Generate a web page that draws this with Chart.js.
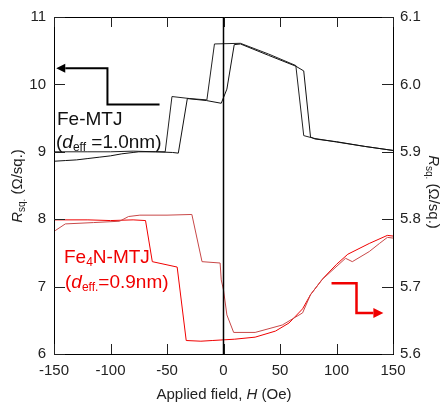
<!DOCTYPE html>
<html lang="en">
<head>
<meta charset="UTF-8" />
<title>Rsq vs applied field</title>
<script src="https://cdn.jsdelivr.net/npm/chart.js"></script>
<style>
    body { margin: 0; background: #fff; }
    canvas { display: block; }
</style>
</head>
<body>
<canvas id="chart" width="444" height="403"></canvas>
<script>
    // Fe-MTJ, left axis (Ohm/sq.), field sweep up and down
    const feUpH = [-150, -140, -130, -120, -110, -100, -90, -80, -75, -60, -45, -40, -32, -15, -2, 3, 9.5, 15, 40, 64, 71, 77, 81, 100, 125, 150];
    const feUpR = [8.86, 8.87, 8.88, 8.9, 8.92, 8.94, 8.97, 8.99, 9.0, 9.0, 8.99, 8.98, 9.79, 9.76, 9.72, 9.93, 10.59, 10.6, 10.43, 10.27, 10.2, 9.22, 9.19, 9.15, 9.08, 9.02];
    const feDownH = [150, 125, 100, 80, 71, 64, 40, 15, -8, -14.7, -30, -45.6, -51.6, -60, -80, -100, -120, -150];
    const feDownR = [9.02, 9.08, 9.145, 9.2, 9.24, 10.28, 10.45, 10.61, 10.6, 9.77, 9.79, 9.82, 9.0, 9.0, 9.01, 9.0, 9.0, 9.0];

    // Fe4N-MTJ, right axis (Ohm/sq.)
    const fe4nUpH = [-149, -140, -115, -92, -84, -74, -50, -28, -19, -3, -2, 0, 3, 9, 28, 52, 70, 77, 87, 108, 114, 129, 138, 145, 150];
    const fe4nUpR = [5.783, 5.793, 5.795, 5.797, 5.804, 5.806, 5.806, 5.807, 5.737, 5.735, 5.71, 5.695, 5.658, 5.632, 5.632, 5.643, 5.661, 5.688, 5.71, 5.742, 5.737, 5.752, 5.764, 5.773, 5.772];
    const fe4nDownH = [150, 145, 129, 110, 100, 88, 77, 70, 58, 46, 28, 10, 0, -10, -20, -33, -41, -63, -69, -80, -100, -120, -150];
    const fe4nDownR = [5.775, 5.776, 5.764, 5.748, 5.733, 5.712, 5.688, 5.667, 5.646, 5.634, 5.625, 5.622, 5.621, 5.62, 5.619, 5.62, 5.729, 5.737, 5.798, 5.799, 5.798, 5.799, 5.799];

    const xTicks = [-150, -100, -50, 0, 50, 100, 150];
    const leftTicks = [6, 7, 8, 9, 10, 11];
    const rightTicks = [5.6, 5.7, 5.8, 5.9, 6.0, 6.1];

    const FONT = "Arial, 'Liberation Sans', sans-serif";
    const RED = '#f00000';

    const pts = (hs, rs) => hs.map((h, i) => ({ x: h, y: rs[i] }));

    function seg(ctx, x1, y1, x2, y2) {
        ctx.beginPath(); ctx.moveTo(x1, y1); ctx.lineTo(x2, y2); ctx.stroke();
    }

    function richWidth(ctx, parts) {
        let w = 0;
        parts.forEach(p => { ctx.font = p.f; w += ctx.measureText(p.t).width; });
        return w;
    }

    function richText(ctx, parts, x, y) {
        ctx.textAlign = 'left';
        ctx.textBaseline = 'alphabetic';
        parts.forEach(p => {
            ctx.font = p.f;
            ctx.fillText(p.t, x, y + (p.dy || 0));
            x += ctx.measureText(p.t).width;
        });
    }

    function arrow(ctx, path, xs, ys, color, width, head) {
        const p = path.map(([h, r]) => [xs.getPixelForValue(h), ys.getPixelForValue(r)]);
        ctx.save();
        ctx.strokeStyle = color; ctx.fillStyle = color; ctx.lineWidth = width;
        ctx.beginPath();
        ctx.moveTo(p[0][0], p[0][1]);
        for (let i = 1; i < p.length - 1; i++) ctx.lineTo(p[i][0], p[i][1]);
        const [tx, ty] = p[p.length - 1];
        const [px, py] = p[p.length - 2];
        const dir = Math.sign(tx - px);
        ctx.lineTo(tx - dir * head, ty);
        ctx.stroke();
        ctx.beginPath();
        ctx.moveTo(tx, ty);
        ctx.lineTo(tx - dir * head, ty - head / 2);
        ctx.lineTo(tx - dir * head, ty + head / 2);
        ctx.closePath();
        ctx.fill();
        ctx.restore();
    }

    // annotation arrows, data units
    const feArrow = [[-56.6, 9.7], [-102.7, 9.7], [-102.7, 10.24], [-148, 10.24]];
    const fe4nArrow = [[95.6, 5.705], [117.7, 5.705], [117.7, 5.661], [141.5, 5.661]];

    const decor = {
        id: 'decor',
        afterDraw(chart) {
            const ctx = chart.ctx;
            const a = chart.chartArea;
            const sx = chart.scales.x, sy = chart.scales.y, sy2 = chart.scales.y2;
            ctx.save();
            ctx.strokeStyle = '#000';
            ctx.lineWidth = 1;
            ctx.strokeRect(a.left + 0.5, a.top + 0.5, a.right - a.left, a.bottom - a.top);

            // inward tick marks
            ctx.strokeStyle = '#222';
            for (const v of xTicks) {
                const px = Math.round(sx.getPixelForValue(v)) + 0.5;
                seg(ctx, px, a.bottom, px, a.bottom - 10);
                seg(ctx, px, a.top, px, a.top + 10);
            }
            for (const v of leftTicks) {
                const py = Math.round(sy.getPixelForValue(v)) + 0.5;
                seg(ctx, a.left, py, a.left + 11, py);
            }
            for (const v of rightTicks) {
                const py = Math.round(sy2.getPixelForValue(v)) + 0.5;
                seg(ctx, a.right, py, a.right - 11, py);
            }

            // zero field line
            ctx.strokeStyle = '#000';
            ctx.lineWidth = 1.5;
            const x0 = sx.getPixelForValue(0);
            seg(ctx, x0, a.top, x0, a.bottom);
            ctx.restore();

            arrow(ctx, feArrow, sx, sy, '#000', 2, 9);
            arrow(ctx, fe4nArrow, sx, sy2, RED, 2.5, 10);

            // sample labels
            ctx.save();
            ctx.fillStyle = '#111';
            richText(ctx, [{ t: 'Fe-MTJ', f: `19px ${FONT}` }], 57, 125);
            richText(ctx, [
                { t: '(', f: `19px ${FONT}` },
                { t: 'd', f: `italic 19px ${FONT}` },
                { t: 'eff', f: `12px ${FONT}`, dy: 3 },
                { t: ' =1.0nm)', f: `19px ${FONT}` }
            ], 56, 148);
            ctx.fillStyle = RED;
            richText(ctx, [
                { t: 'Fe', f: `19px ${FONT}` },
                { t: '4', f: `12px ${FONT}`, dy: 3 },
                { t: 'N-MTJ', f: `19px ${FONT}` }
            ], 64, 263);
            richText(ctx, [
                { t: '(', f: `19px ${FONT}` },
                { t: 'd', f: `italic 19px ${FONT}` },
                { t: 'eff.', f: `12px ${FONT}`, dy: 3 },
                { t: '=0.9nm)', f: `19px ${FONT}` }
            ], 65, 288);

            // axis titles
            ctx.fillStyle = '#222';
            const yTitle = [
                { t: 'R', f: `italic 15px ${FONT}` },
                { t: 'sq.', f: `10px ${FONT}`, dy: 3 },
                { t: ' (\u03a9/sq.)', f: `15px ${FONT}` }
            ];
            const w = richWidth(ctx, yTitle);
            ctx.save();
            ctx.translate(22, 186);
            ctx.rotate(-Math.PI / 2);
            richText(ctx, yTitle, -w / 2, 0);
            ctx.restore();
            ctx.save();
            ctx.translate(429, 192);
            ctx.rotate(Math.PI / 2);
            richText(ctx, yTitle, -w / 2, 0);
            ctx.restore();

            const xTitle = [
                { t: 'Applied field, ', f: `15px ${FONT}` },
                { t: 'H', f: `italic 15px ${FONT}` },
                { t: ' (Oe)', f: `15px ${FONT}` }
            ];
            richText(ctx, xTitle, 224 - richWidth(ctx, xTitle) / 2, 399);
            ctx.restore();
        }
    };

    const lineSet = (data, color, axis) => ({
        data, yAxisID: axis, borderColor: color, borderWidth: 1,
        pointRadius: 0, tension: 0, fill: false, showLine: true
    });

    const tickFont = { family: FONT, size: 15 };
    const axisBase = {
        type: 'linear',
        grid: { display: false, drawTicks: false },
        border: { display: true, color: '#000', width: 1 }
    };

    new Chart(document.getElementById('chart'), {
        type: 'scatter',
        data: {
            datasets: [
                lineSet(pts(feUpH, feUpR), '#111', 'y'),
                lineSet(pts(feDownH, feDownR), '#222', 'y'),
                lineSet(pts(fe4nUpH, fe4nUpR), '#c84848', 'y2'),
                lineSet(pts(fe4nDownH, fe4nDownR), RED, 'y2')
            ]
        },
        options: {
            responsive: false,
            animation: false,
            layout: { padding: { top: 16 } },
            plugins: { legend: { display: false }, tooltip: { enabled: false } },
            scales: {
                x: {
                    ...axisBase, position: 'bottom', min: -150, max: 150,
                    ticks: { stepSize: 50, font: tickFont, color: '#222', padding: 8 },
                    afterFit: s => { s.height = 49; }
                },
                y: {
                    ...axisBase, position: 'left', min: 6, max: 11,
                    ticks: { stepSize: 1, font: tickFont, color: '#222', padding: 8 },
                    afterFit: s => { s.width = 54; }
                },
                y2: {
                    ...axisBase, position: 'right', min: 5.6, max: 6.1,
                    ticks: { stepSize: 0.1, font: tickFont, color: '#222', padding: 7,
                        callback: v => v.toFixed(1) },
                    afterFit: s => { s.width = 51; }
                }
            }
        },
        plugins: [decor]
    });
</script>
</body>
</html>
